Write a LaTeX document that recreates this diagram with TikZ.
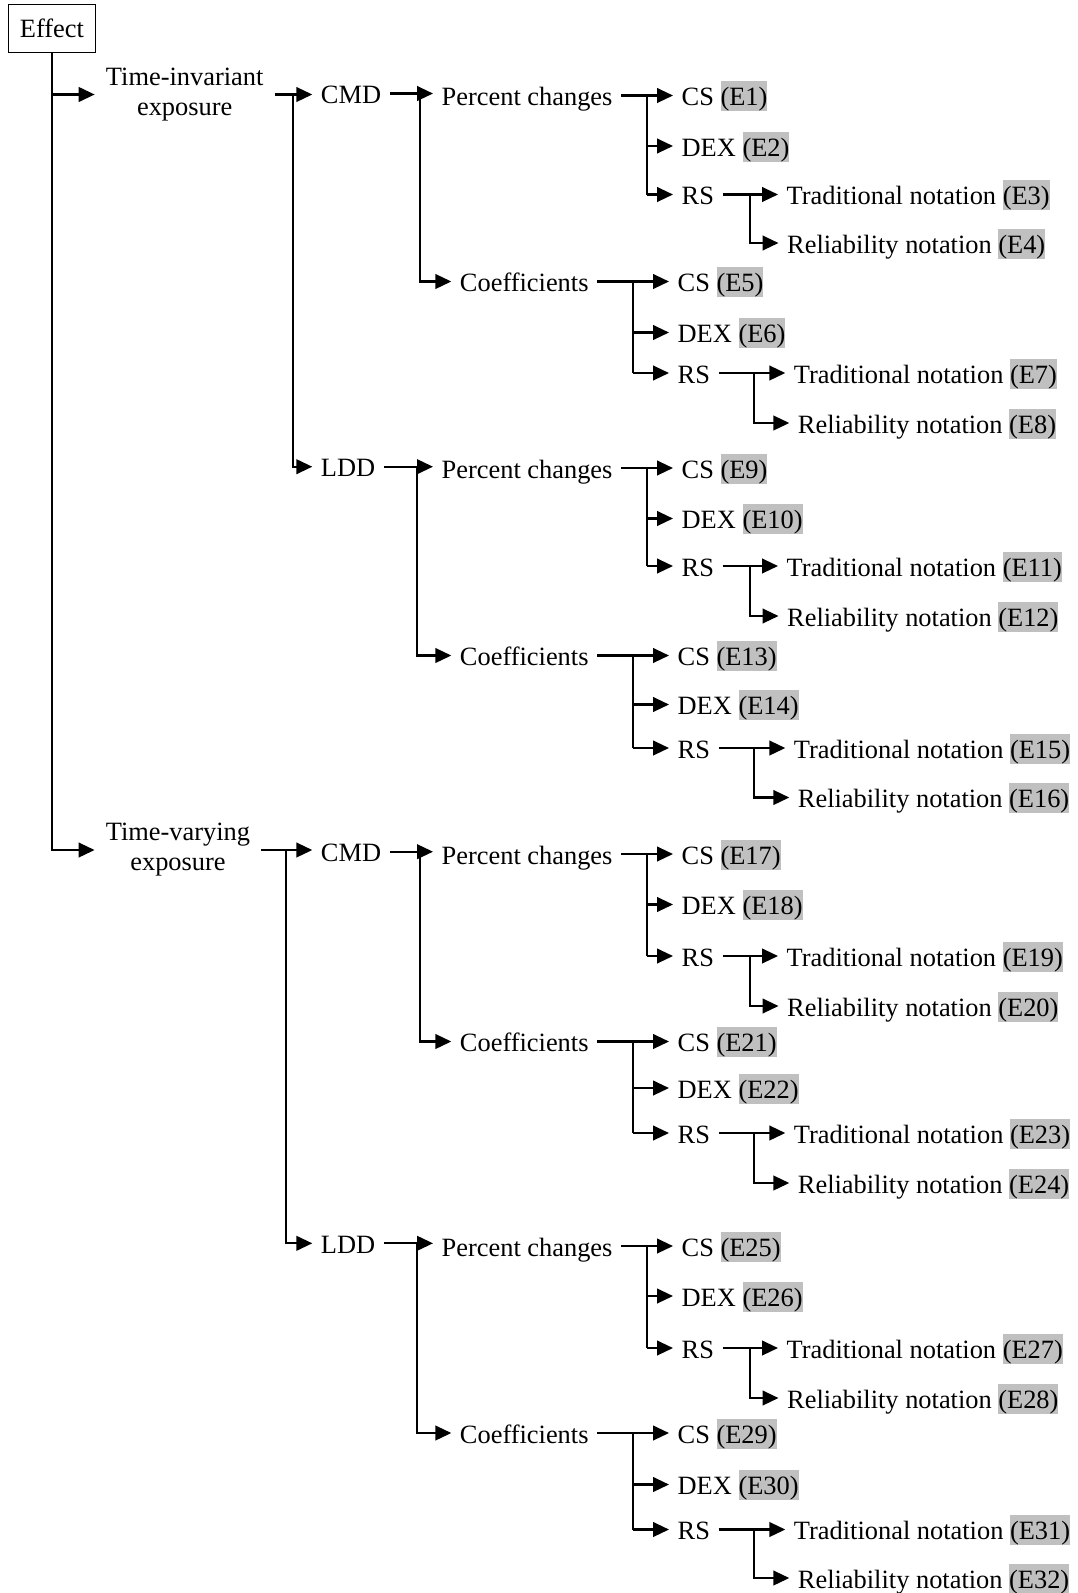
\documentclass[tikz,border=0pt]{standalone}
\usepackage{fontspec}
\setmainfont{Liberation Serif}
\usetikzlibrary{arrows.meta}
\definecolor{hlgrey}{RGB}{192,192,192}
\newcommand\hl[1]{{\setlength{\fboxsep}{0pt}\colorbox{hlgrey}{\rule[-0.22em]{0pt}{1.14em}#1}}}
\newcommand\setpc{\def\xPar{433}\def\xBus{647.3}\def\xLeaf{673}\def\xRbus{750}\def\xTrad{778}\def\xRel{778.5}}
\newcommand\setcoef{\def\xPar{451.3}\def\xBus{633.3}\def\xLeaf{669}\def\xRbus{754}\def\xTrad{785.3}\def\xRel{789.3}}
\newcommand\leafset[7]{%
  \node[lbl] (#1) at (\xPar,#3) {#2};
  \node[lbl] (#1cs) at (\xLeaf,#3) {CS \hl{(E#7)}};
  \node[lbl] (#1dex) at (\xLeaf,#4) {DEX \hl{(E\the\numexpr#7+1\relax)}};
  \node[lbl] (#1rs) at (\xLeaf,#5) {RS};
  \node[lbl] (#1tr) at (\xTrad,#5) {Traditional notation \hl{(E\the\numexpr#7+2\relax)}};
  \node[lbl] (#1re) at (\xRel,#6) {Reliability notation \hl{(E\the\numexpr#7+3\relax)}};
  \coordinate (#1b) at (\xBus,#3);
  \coordinate (#1rb) at (\xRbus,#5);
  \draw[arr] (#1.east) -- (#1.east -| #1cs.west);
  \draw[ln] (#1b |- #1.east) -- (#1b |- #1rs.west);
  \draw[arr] (#1b |- #1dex.west) -- (#1dex.west);
  \draw[arr] (#1b |- #1rs.west) -- (#1rs.west);
  \draw[arr] (#1rs.east) -- (#1rs.east -| #1tr.west);
  \draw[arr] (#1rb |- #1rs.east) |- (#1re.west);
}
\begin{document}
\begin{tikzpicture}[x=0.75pt,y=-0.75pt,
  font=\fontsize{19.8pt}{22.5pt}\selectfont,
  ln/.style={line width=1.6pt},
  arr/.style={line width=1.6pt,-{Triangle[length=12pt,width=11pt]}},
  lbl/.style={anchor=west,inner xsep=6.5pt,inner ysep=0pt,outer sep=0pt,text height=17pt,text depth=2pt},
  two/.style={align=center,inner xsep=8.5pt,inner ysep=0pt,outer sep=0pt},
  ebox/.style={draw,line width=1.1pt,minimum width=65.5pt,minimum height=36pt,inner sep=0pt}]
\useasboundingbox (0,0) rectangle (1078,1593);
\node[ebox] (effect) at (52,28.7) {Effect};
\node[two] (ti) at (184.7,94.5) {Time-invariant\\exposure};
\node[two] (tv) at (178,850) {Time-varying\\exposure};
\draw[arr] (effect.south) |- (tv.west);
\draw[arr] (effect.south |- ti.west) -- (ti.west);
% level 2
\node[lbl] (cmdA) at (312.3,93.5) {CMD};
\node[lbl] (lddA) at (312.3,466.7) {LDD};
\node[lbl] (cmdB) at (312.3,851.7) {CMD};
\node[lbl] (lddB) at (312.3,1243.3) {LDD};
\coordinate (tib) at (292.7,94.5);
\coordinate (tvb) at (286,850);
\draw[arr] (ti.east) -- (ti.east -| cmdA.west);
\draw[arr] (tib |- ti.east) |- (lddA.west);
\draw[arr] (tv.east) -- (tv.east -| cmdB.west);
\draw[arr] (tvb |- tv.east) |- (lddB.west);
% group A : time-invariant CMD
\setpc\leafset{pA}{Percent changes}{95.5}{146}{194.5}{243}{1}
\setcoef\leafset{cA}{Coefficients}{281.5}{332.5}{373}{423}{5}
\coordinate (cmdAb) at (420,93.5);
\draw[arr] (cmdA.east) -- (cmdA.east -| pA.west);
\draw[arr] (cmdAb |- cmdA.east) |- (cA.west);
% group B : time-invariant LDD
\setpc\leafset{pB}{Percent changes}{468}{518.5}{566}{616}{9}
\setcoef\leafset{cB}{Coefficients}{655.5}{704.5}{748}{797.5}{13}
\coordinate (lddAb) at (417,466.7);
\draw[arr] (lddA.east) -- (lddA.east -| pB.west);
\draw[arr] (lddAb |- lddA.east) |- (cB.west);
% group C : time-varying CMD
\setpc\leafset{pC}{Percent changes}{854}{904.5}{956}{1006}{17}
\setcoef\leafset{cC}{Coefficients}{1041.5}{1088}{1133}{1183}{21}
\coordinate (cmdBb) at (420,851.7);
\draw[arr] (cmdB.east) -- (cmdB.east -| pC.west);
\draw[arr] (cmdBb |- cmdB.east) |- (cC.west);
% group D : time-varying LDD
\setpc\leafset{pD}{Percent changes}{1246}{1296}{1348}{1398}{25}
\setcoef\leafset{cD}{Coefficients}{1433}{1484.5}{1529.5}{1578}{29}
\coordinate (lddBb) at (417,1243.3);
\draw[arr] (lddB.east) -- (lddB.east -| pD.west);
\draw[arr] (lddBb |- lddB.east) |- (cD.west);
\end{tikzpicture}
\end{document}
